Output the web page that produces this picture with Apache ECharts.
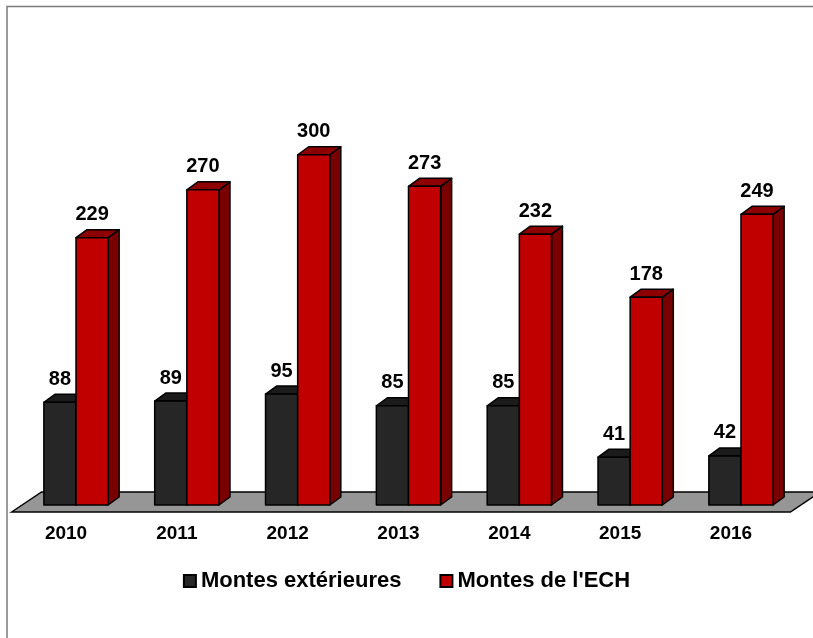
<!DOCTYPE html>
<html>
<head>
<meta charset="utf-8">
<script src="https://cdn.jsdelivr.net/npm/echarts@6/dist/echarts.min.js"></script>
<style>
  html, body { margin: 0; padding: 0; background: #fff; }
  #chart { width: 813px; height: 638px; }
</style>
</head>
<body>
<div id="chart"></div>
<script>
  // data
  const years = ['2010', '2011', '2012', '2013', '2014', '2015', '2016'];
  const montesExterieures = [88, 89, 95, 85, 85, 41, 42];
  const montesEch = [229, 270, 300, 273, 232, 178, 249];

  const FONT = "'Liberation Sans', Arial, sans-serif";
  const chart = echarts.init(document.getElementById('chart'));

  // 3d-ish bar: front face, top face and side face
  function bar3d(api, side, colors) {
    const cat = api.value(0);
    const val = api.value(1);
    const top = api.coord([cat, val]);
    const base = api.coord([cat, 0]);
    const band = api.size([1, 0])[0];
    const w = band * 0.29;
    const x0 = side < 0 ? top[0] - w : top[0];
    const x1 = x0 + w;
    const dx = 11, dy = 8;
    const line = { stroke: '#000', lineWidth: 1.5, lineJoin: 'round' };
    return {
      type: 'group',
      children: [
        {
          type: 'polygon',
          shape: { points: [[x1, top[1]], [x1 + dx, top[1] - dy], [x1 + dx, base[1] - dy], [x1, base[1]]] },
          style: Object.assign({ fill: colors.side }, line)
        },
        {
          type: 'polygon',
          shape: { points: [[x0, top[1]], [x0 + dx, top[1] - dy], [x1 + dx, top[1] - dy], [x1, top[1]]] },
          style: Object.assign({ fill: colors.top }, line)
        },
        {
          type: 'rect',
          shape: { x: x0, y: top[1], width: w, height: base[1] - top[1] },
          style: Object.assign({ fill: colors.front }, line)
        },
        {
          type: 'text',
          x: (x0 + x1) / 2,
          y: top[1] - 23,
          style: {
            text: String(val),
            fill: '#000',
            font: 'bold 20px ' + FONT,
            align: 'center',
            verticalAlign: 'middle'
          }
        }
      ]
    };
  }

  const darkColors = { front: '#262626', top: '#1b1b1b', side: '#111111' };
  const redColors = { front: '#c00000', top: '#8c0000', side: '#780000' };

  chart.setOption({
    backgroundColor: '#fff',
    animation: false,
    graphic: [{
      type: 'rect',
      shape: { x: 7, y: 6.5, width: 900, height: 700 },
      style: { fill: 'none', stroke: '#7a7a7a', lineWidth: 1.5 },
      silent: true
    }],
    grid: { left: 20.6, right: 16.6, top: 38, bottom: 133 },
    legend: {
      data: ['Montes extérieures', "Montes de l'ECH"],
      top: 565,
      left: 'center',
      icon: 'rect',
      itemWidth: 12,
      itemHeight: 12,
      itemGap: 38,
      textStyle: { fontSize: 22, fontWeight: 'bold', color: '#000', fontFamily: FONT }
    },
    xAxis: {
      type: 'category',
      data: years,
      axisLine: { show: false },
      axisTick: { show: false },
      axisLabel: {
        margin: 19,
        fontSize: 19,
        fontWeight: 'bold',
        color: '#000',
        fontFamily: FONT,
        padding: [0, 20, 0, 0]
      }
    },
    yAxis: {
      type: 'value',
      min: 0,
      max: 400,
      show: false,
      splitLine: { show: false }
    },
    series: [
      {
        name: 'floor',
        type: 'custom',
        silent: true,
        z: 1,
        data: [[0, 0]],
        renderItem: function (params) {
          const cs = params.coordSys;
          const bottom = cs.y + cs.height;
          const fy = bottom + 7, by = bottom - 13;
          const lx = cs.x - 9, rx = cs.x + cs.width - 6;
          return {
            type: 'polygon',
            shape: { points: [[lx, fy], [lx + 30, by], [rx + 30, by], [rx, fy]] },
            style: { fill: '#969696', stroke: '#000', lineWidth: 1.5 }
          };
        }
      },
      {
        name: 'Montes extérieures',
        type: 'custom',
        z: 2,
        itemStyle: { color: '#262626', borderColor: '#000', borderWidth: 1.5 },
        data: montesExterieures.map((v, i) => [i, v]),
        renderItem: function (params, api) { return bar3d(api, -1, darkColors); }
      },
      {
        name: "Montes de l'ECH",
        type: 'custom',
        z: 3,
        itemStyle: { color: '#c00000', borderColor: '#000', borderWidth: 1.5 },
        data: montesEch.map((v, i) => [i, v]),
        renderItem: function (params, api) { return bar3d(api, 1, redColors); }
      }
    ]
  });
</script>
</body>
</html>
